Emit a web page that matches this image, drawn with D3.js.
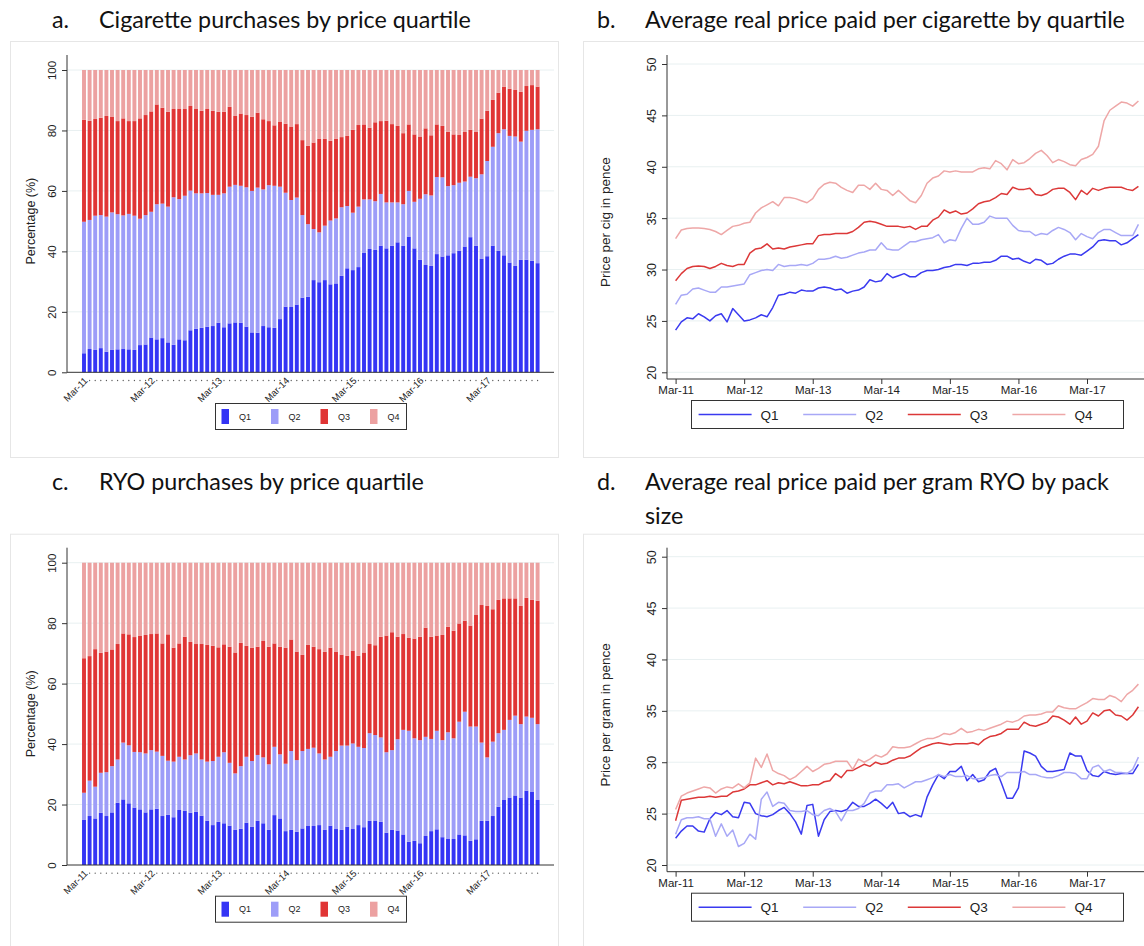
<!DOCTYPE html>
<html>
<head>
<meta charset="utf-8">
<script src="https://cdn.jsdelivr.net/npm/d3@7"></script>
<style>
  body { margin: 0; background: #fff; }
</style>
</head>
<body>
<svg id="fig" width="1144" height="946"></svg>
<script>
// months Mar-11 .. Dec-17 (82 monthly observations)
const months = d3.timeMonth.range(new Date(2011, 2, 1), new Date(2018, 0, 1));
const fmt = d3.timeFormat("%b-%y");
const tickLabels = ["Mar-11", "Mar-12", "Mar-13", "Mar-14", "Mar-15", "Mar-16", "Mar-17"];
const quartiles = ["Q1", "Q2", "Q3", "Q4"];
const pctTicks = [0, 20, 40, 60, 80, 100];
const priceTicks = [20, 25, 30, 35, 40, 45, 50];

// a. cigarette purchases: cumulative tops of Q1, Q1+Q2, Q1+Q2+Q3 (%)
const cigTop1 = [6.3,7.7,7.4,8.0,6.8,7.4,7.6,7.7,7.6,7.4,9.0,9.2,11.5,10.9,11.3,9.9,9.1,10.9,10.6,13.9,
  14.4,14.7,15.1,15.3,16.4,14.9,16.2,16.5,16.4,15.1,13.2,13.1,15.3,14.9,14.7,17.6,21.7,21.6,22.4,24.7,
  25.0,30.5,29.8,30.5,29.1,29.4,31.9,34.4,33.8,34.8,39.6,40.8,40.5,41.9,41.0,41.9,43.0,41.9,44.9,41.0,
  37.2,35.5,35.2,39.1,38.3,38.7,39.4,40.2,41.6,44.7,41.9,37.5,38.4,41.9,40.2,38.7,36.3,35.2,37.2,37.2,
  36.9,36.1];
const cigTop2 = [49.8,50.4,51.8,52.0,51.5,52.9,52.3,51.9,52.4,51.8,50.8,52.0,53.1,55.6,55.8,54.8,57.9,57.3,58.4,60.1,
  59.2,59.2,59.3,58.7,58.7,59.2,61.4,62.0,61.7,61.2,60.0,61.1,60.5,61.9,61.7,61.4,59.4,57.0,57.8,52.0,
  49.0,47.4,46.3,48.5,50.2,50.9,54.6,55.0,52.8,54.8,57.2,57.2,56.6,59.0,56.2,56.2,56.2,55.6,60.0,56.4,
  57.4,58.9,58.5,64.6,64.5,61.6,61.9,62.7,63.1,64.7,64.2,65.5,69.9,74.6,79.1,80.4,78.2,78.0,76.3,79.9,
  80.2,80.4];
const cigTop3 = [83.5,83.2,83.8,84.2,84.8,84.6,83.1,84.0,83.1,83.1,84.0,85.1,86.3,88.6,87.5,86.2,87.1,87.1,87.1,88.1,
  87.1,86.5,87.1,86.5,86.2,86.2,87.8,84.8,85.6,85.1,84.5,85.9,83.7,83.1,81.7,82.8,82.2,81.3,82.1,76.8,
  74.9,76.0,77.2,77.2,76.6,77.3,77.8,78.2,80.2,81.8,82.0,80.9,82.7,83.1,83.2,82.1,81.5,79.1,82.0,78.7,
  78.0,80.7,78.4,82.0,81.5,79.6,78.7,78.5,79.5,80.2,79.5,83.9,86.5,90.1,92.5,94.5,93.8,93.4,92.8,94.7,
  95.0,94.5];

// c. RYO purchases: cumulative tops (%)
const ryoTop1 = [14.9,16.2,15.4,17.3,16.2,17.4,20.6,21.7,20.4,19.0,18.4,17.4,18.4,18.6,16.2,16.6,15.8,18.2,17.9,17.3,
  17.6,16.3,14.6,13.2,14.3,13.8,13.0,11.6,12.0,14.0,12.6,14.6,13.8,11.6,16.5,15.4,11.2,11.6,11.0,12.1,
  12.9,12.9,13.2,11.6,13.0,11.9,11.6,12.7,11.9,13.2,12.5,14.6,14.7,14.3,10.7,11.6,11.4,10.1,7.7,8.0,
  7.2,9.6,11.2,11.8,9.2,8.6,8.6,10.1,9.8,8.0,8.5,14.6,14.6,16.2,19.3,21.5,22.3,23.0,22.3,24.6,
  24.3,21.5];
const ryoTop2 = [23.9,27.9,25.9,30.5,30.7,32.7,34.9,40.5,39.6,37.4,37.3,36.9,38.0,37.5,36.1,34.5,34.2,35.8,34.9,36.3,
  36.9,34.9,34.2,34.4,35.8,37.3,33.8,30.3,32.7,35.8,34.4,36.4,35.6,33.3,39.1,36.6,33.5,37.7,34.7,37.7,
  38.4,38.8,36.9,34.9,35.8,37.7,39.5,39.5,40.2,39.1,38.7,43.6,43.0,42.2,37.3,38.0,41.6,44.7,44.4,41.9,
  41.3,42.4,41.7,44.4,41.3,43.9,41.9,47.4,50.7,45.8,45.8,40.5,35.6,40.8,43.6,44.7,48.0,49.4,46.6,49.1,
  48.7,46.6];
const ryoTop3 = [68.4,69.1,71.4,70.2,70.6,71.3,73.1,76.6,76.3,75.4,75.9,76.1,76.4,76.6,73.3,76.3,71.9,73.3,75.5,73.8,
  73.1,73.1,72.8,72.5,72.0,73.0,72.2,70.3,73.5,72.5,71.9,72.2,74.1,72.2,73.3,72.2,71.9,74.6,70.6,69.5,
  72.8,72.2,71.4,70.5,71.9,70.6,69.6,69.2,70.8,69.2,70.3,73.1,72.7,75.5,75.9,77.0,75.5,76.4,75.2,74.9,
  75.5,78.5,75.5,75.9,76.1,78.8,77.5,79.9,80.8,79.2,82.7,86.0,85.7,84.6,87.7,88.2,88.2,88.2,85.7,88.4,
  87.7,87.4];

// b. price per cigarette (pence)
const cigQ1 = [24.1,24.9,25.3,25.2,25.7,25.4,25.0,25.5,25.7,24.9,26.2,25.6,25.0,25.1,25.3,25.6,25.4,26.3,27.5,27.6,
  27.8,27.7,28.0,27.9,27.9,28.2,28.3,28.2,28.0,28.1,27.7,27.9,28.0,28.3,29.0,28.8,28.9,29.6,29.2,29.4,
  29.6,29.3,29.3,29.7,29.9,29.9,30.0,30.2,30.3,30.5,30.5,30.4,30.6,30.6,30.7,30.7,30.9,31.3,31.3,31.0,
  31.1,30.8,30.6,31.0,30.9,30.5,30.6,31.0,31.3,31.5,31.5,31.4,31.8,32.2,32.8,32.9,32.8,32.8,32.4,32.6,
  33.0,33.4];
const cigQ2 = [26.6,27.5,27.6,28.1,28.2,28.0,27.8,27.8,28.3,28.3,28.4,28.5,28.6,29.5,29.7,29.9,30.0,29.9,30.5,30.3,
  30.4,30.4,30.5,30.4,30.6,31.0,31.0,31.1,31.3,31.1,31.2,31.4,31.6,31.7,31.9,31.9,32.6,32.0,31.9,31.9,
  32.3,32.7,32.7,32.9,33.0,33.1,33.4,32.6,32.9,32.8,34.0,35.0,34.4,34.4,34.6,35.2,35.0,35.0,35.0,34.3,
  33.8,33.7,33.7,33.3,33.5,33.4,33.8,34.1,33.9,33.6,32.9,33.5,33.2,33.0,33.6,33.9,33.9,33.6,33.3,33.3,
  33.3,34.4];
const cigQ3 = [28.9,29.6,30.1,30.3,30.35,30.3,30.1,30.3,30.6,30.4,30.3,30.5,30.5,31.6,32.0,32.1,32.5,32.0,32.1,32.0,
  32.2,32.3,32.4,32.5,32.5,33.3,33.4,33.4,33.5,33.5,33.5,33.7,34.1,34.6,34.7,34.6,34.4,34.2,34.2,34.2,
  34.1,34.2,33.9,34.2,34.2,34.8,35.1,35.8,35.5,35.7,35.4,35.5,35.9,36.4,36.6,36.7,37.0,37.4,37.3,38.0,
  37.8,37.8,37.9,37.3,37.2,37.4,37.8,37.9,37.9,37.5,36.8,37.7,37.3,37.9,37.7,37.9,38.0,38.0,38.0,37.8,
  37.7,38.1];
const cigQ4 = [33.0,33.85,34.0,34.05,34.05,34.0,33.9,33.7,33.4,33.8,34.2,34.3,34.5,34.6,35.5,36.0,36.3,36.6,36.2,37.0,
  37.0,36.9,36.7,36.5,36.9,37.8,38.3,38.5,38.4,38.0,37.7,37.5,38.2,38.2,37.8,38.4,37.8,37.7,37.2,37.7,
  37.2,36.7,36.5,37.2,38.4,38.9,39.1,39.6,39.5,39.6,39.5,39.5,39.5,39.8,39.9,39.8,40.6,40.3,39.7,40.7,
  40.3,40.4,40.8,41.3,41.6,41.1,40.4,40.7,40.5,40.2,40.1,40.7,40.9,41.2,42.0,44.5,45.5,45.9,46.3,46.2,
  45.9,46.4];

// d. price per gram RYO (pence)
const ryoQ1 = [22.6,23.3,23.8,23.8,23.3,23.2,24.5,25.1,24.9,25.3,24.7,24.6,26.1,26.0,25.0,24.8,24.7,24.9,25.3,25.6,
  25.0,24.2,23.0,25.8,25.9,22.8,24.4,25.2,25.3,25.2,25.4,26.1,25.7,25.7,26.0,26.4,26.0,25.5,26.1,25.0,
  25.1,24.7,24.9,24.7,26.6,27.8,28.8,28.4,29.1,29.1,29.6,28.2,28.8,28.1,28.3,29.1,29.4,28.0,26.5,26.5,
  27.5,31.1,30.9,30.6,29.6,29.1,29.1,29.2,29.3,30.9,30.6,30.6,29.2,28.7,28.6,29.1,28.9,28.8,28.9,28.9,
  28.9,29.8];
const ryoQ2 = [23.0,24.4,24.6,24.6,24.7,24.5,24.5,22.8,24.0,22.8,23.4,21.8,22.1,23.0,22.5,26.4,27.1,25.7,26.1,26.0,
  25.3,25.2,25.2,25.3,24.9,24.8,25.3,25.5,25.2,24.3,25.3,25.3,25.5,26.0,27.0,27.2,27.2,27.8,27.8,27.9,
  27.5,27.8,28.1,28.1,28.3,28.5,28.8,28.6,28.8,28.6,28.6,28.7,28.4,28.4,28.5,28.7,28.8,28.6,29.0,29.0,
  29.0,29.1,28.8,28.8,28.6,28.5,28.5,28.7,29.0,29.0,28.9,28.4,28.4,29.5,29.7,29.1,29.3,29.0,29.0,28.9,
  29.3,30.5];
const ryoQ3 = [24.3,26.3,26.4,26.5,26.6,26.6,26.7,26.6,26.7,26.7,27.1,27.2,27.4,27.8,27.8,28.0,28.2,27.8,28.0,27.9,
  28.1,27.9,27.7,27.7,27.8,27.8,28.1,28.2,28.9,28.5,29.2,29.2,29.5,29.8,29.6,30.0,29.8,29.9,30.2,30.4,
  30.4,30.6,31.0,31.4,31.6,31.8,31.9,31.8,31.7,31.8,31.8,31.8,31.9,31.7,32.2,32.5,32.6,32.8,33.2,33.2,
  33.2,33.9,33.6,33.5,33.7,33.9,34.5,34.4,34.1,33.7,34.4,33.7,34.0,34.8,34.5,35.0,35.1,34.6,34.5,34.1,
  34.6,35.4];
const ryoQ4 = [25.4,26.7,27.0,27.2,27.4,27.6,27.5,27.0,27.4,27.6,27.5,27.9,27.5,28.0,30.4,29.5,30.8,29.2,28.9,28.7,
  28.3,28.6,29.1,29.6,29.1,29.4,29.8,29.9,30.1,30.1,30.1,29.3,30.3,30.0,30.3,30.7,30.5,30.8,31.5,31.4,
  31.4,31.5,31.8,32.1,32.3,32.3,32.5,32.8,32.7,32.9,33.3,32.9,33.0,33.2,33.1,33.3,33.5,33.7,34.0,33.9,
  34.1,34.5,34.6,34.6,34.7,34.9,34.9,35.5,35.3,35.2,35.2,35.5,35.8,36.2,36.1,36.1,36.5,36.3,35.9,36.6,
  37.0,37.6];

const barColors = ["#3434f5", "#9d9df8", "#e03535", "#eca1a1"];
const lineColors = ["#3a3af0", "#a8a8f6", "#dc3838", "#eea7a7"];
const axisFont = "'Liberation Sans', Arial, Helvetica, sans-serif";
const titleFont = "Lato, 'Open Sans', sans-serif";

const svg = d3.select("#fig");

// ---------- titles ----------
const titleSize = (() => {
  const t = svg.append("text").attr("font-family", titleFont).attr("font-size", 20)
    .text("Cigarette purchases by price quartile");
  const w = t.node().getComputedTextLength();
  t.remove();
  return 20 * 372 / w;
})();

function title(lx, tx, yb, letter, lines) {
  svg.append("text").attr("x", lx).attr("y", yb)
    .attr("font-family", titleFont).attr("font-size", titleSize).attr("fill", "#111")
    .text(letter);
  lines.forEach((s, i) => {
    svg.append("text").attr("x", tx).attr("y", yb + i * 34)
      .attr("font-family", titleFont).attr("font-size", titleSize).attr("fill", "#111")
      .text(s);
  });
}
title(52, 99, 28, "a.", ["Cigarette purchases by price quartile"]);
title(597, 645, 28, "b.", ["Average real price paid per cigarette by quartile"]);
title(52, 99, 490, "c.", ["RYO purchases by price quartile"]);
title(597, 645, 490, "d.", ["Average real price paid per gram RYO by pack", "size"]);

// rotate left-axis tick labels to read bottom-to-top (Stata style)
function rotateYLabels(axisG, size, gap) {
  axisG.selectAll(".tick text")
    .attr("transform", "rotate(-90)")
    .attr("x", 0).attr("y", -gap).attr("dy", 0)
    .attr("text-anchor", "middle")
    .attr("font-size", size).attr("font-family", axisFont).attr("fill", "#222");
  axisG.selectAll(".tick line").attr("stroke", "#333");
}

// ---------- stacked bar panels ----------
function barPanel(dy, top1, top2, top3) {
  const g = svg.append("g").attr("transform", `translate(0,${dy})`);
  g.append("rect").attr("x", 10.5).attr("y", 41.5).attr("width", 548).attr("height", 416)
    .attr("fill", "none").attr("stroke", "#e6e6e6");

  const x = d3.scaleBand().domain(months.map(fmt)).range([81.2, 540.4])
    .paddingInner(0.3).paddingOuter(0.15);
  const y = d3.scaleLinear().domain([0, 100]).range([372.3, 70]);

  g.append("g").selectAll("line").data(pctTicks.slice(1)).join("line")
    .attr("x1", 67).attr("x2", 554).attr("y1", y).attr("y2", y)
    .attr("stroke", "#e8f0f1");

  const rows = months.map((m, i) => ({
    month: fmt(m),
    Q1: top1[i], Q2: top2[i] - top1[i], Q3: top3[i] - top2[i], Q4: 100 - top3[i]
  }));
  const stack = d3.stack().keys(quartiles)(rows);

  g.append("g").selectAll("g").data(stack).join("g")
    .attr("fill", (d, i) => barColors[i])
    .selectAll("rect").data(d => d).join("rect")
    .attr("x", d => x(d.data.month))
    .attr("width", x.bandwidth())
    .attr("y", d => y(d[1]))
    .attr("height", d => y(d[0]) - y(d[1]));

  const ya = g.append("g").attr("transform", "translate(67,0)")
    .call(d3.axisLeft(y).tickValues(pctTicks).tickSize(5).tickSizeOuter(0));
  ya.select(".domain").remove();
  rotateYLabels(ya, 11.5, 11);
  g.append("line").attr("x1", 67).attr("x2", 67).attr("y1", 55).attr("y2", 372.3)
    .attr("stroke", "#333");
  g.append("line").attr("x1", 67).attr("x2", 554).attr("y1", 372.3).attr("y2", 372.3)
    .attr("stroke", "#333");

  g.append("text")
    .attr("transform", `translate(35,${(y(0) + y(100)) / 2}) rotate(-90)`)
    .attr("text-anchor", "middle").attr("font-family", axisFont)
    .attr("font-size", 12.5).attr("fill", "#222")
    .text("Percentage (%)");

  // month labels: named ones rotated, the rest as dots
  const xl = g.append("g");
  months.map(fmt).forEach(m => {
    const cx = x(m) + x.bandwidth() / 2;
    if (tickLabels.includes(m)) {
      xl.append("text")
        .attr("transform", `translate(${cx + 2},${379}) rotate(-45)`)
        .attr("text-anchor", "end").attr("dy", "0.35em")
        .attr("font-family", axisFont).attr("font-size", 9.5).attr("fill", "#222")
        .text(m);
    } else {
      xl.append("circle").attr("cx", cx).attr("cy", 380.5).attr("r", 0.65).attr("fill", "#555");
    }
  });

  // legend
  const lg = g.append("g");
  lg.append("rect").attr("x", 215.5).attr("y", 403.5).attr("width", 191).attr("height", 26)
    .attr("fill", "#fff").attr("stroke", "#333");
  quartiles.forEach((q, k) => {
    lg.append("rect").attr("x", 221.5 + k * 49.5).attr("y", 409).attr("width", 7.5).attr("height", 15)
      .attr("fill", barColors[k]);
    lg.append("text").attr("x", 239 + k * 49.5).attr("y", 419.5)
      .attr("font-family", axisFont).attr("font-size", 9).attr("fill", "#222").text(q);
  });
}

// ---------- line panels ----------
function linePanel(dy, seriesList, ytitle) {
  const g = svg.append("g").attr("transform", `translate(0,${dy})`);
  g.append("rect").attr("x", 583.5).attr("y", 41.5).attr("width", 600).attr("height", 416)
    .attr("fill", "none").attr("stroke", "#e6e6e6");

  const x = d3.scaleLinear().domain([0, 72]).range([675.6, 1087]);
  const y = d3.scaleLinear().domain([20, 50]).range([372.3, 64]);

  g.append("g").selectAll("line").data(priceTicks).join("line")
    .attr("x1", 667).attr("x2", 1144).attr("y1", y).attr("y2", y)
    .attr("stroke", "#e8f0f1");

  const line = d3.line().x((d, i) => x(i)).y(d => y(d));
  g.append("g").selectAll("path").data(seriesList).join("path")
    .attr("d", line)
    .attr("fill", "none")
    .attr("stroke", (d, i) => lineColors[i])
    .attr("stroke-width", 1.5)
    .attr("stroke-linejoin", "round");

  const ya = g.append("g").attr("transform", "translate(667,0)")
    .call(d3.axisLeft(y).tickValues(priceTicks).tickSize(5).tickSizeOuter(0));
  ya.select(".domain").remove();
  rotateYLabels(ya, 12.5, 11);
  g.append("line").attr("x1", 667).attr("x2", 667).attr("y1", 55).attr("y2", 379)
    .attr("stroke", "#333");

  const xa = g.append("g").attr("transform", "translate(0,379)")
    .call(d3.axisBottom(x).tickValues(d3.range(0, 73, 12))
      .tickFormat((d, i) => tickLabels[i]).tickSize(5).tickSizeOuter(0));
  xa.select(".domain").remove();
  xa.selectAll(".tick text").attr("font-family", axisFont).attr("font-size", 11.5)
    .attr("fill", "#222").attr("y", 7);
  xa.selectAll(".tick line").attr("stroke", "#333");
  g.append("line").attr("x1", 667).attr("x2", 1144).attr("y1", 379).attr("y2", 379)
    .attr("stroke", "#333");

  g.append("text")
    .attr("transform", `translate(610,${(y(20) + y(50)) / 2 + 4}) rotate(-90)`)
    .attr("text-anchor", "middle").attr("font-family", axisFont)
    .attr("font-size", 13.5).attr("fill", "#222")
    .text(ytitle);

  const lg = g.append("g");
  lg.append("rect").attr("x", 691.5).attr("y", 400.5).attr("width", 432).attr("height", 28)
    .attr("fill", "#fff").attr("stroke", "#333");
  quartiles.forEach((q, k) => {
    const x0 = 698.6 + k * 104.6;
    lg.append("line").attr("x1", x0).attr("x2", x0 + 53).attr("y1", 414.5).attr("y2", 414.5)
      .attr("stroke", lineColors[k]).attr("stroke-width", 1.5);
    lg.append("text").attr("x", x0 + 62).attr("y", 419.5)
      .attr("font-family", axisFont).attr("font-size", 13.5).attr("fill", "#222").text(q);
  });
}

barPanel(0, cigTop1, cigTop2, cigTop3);
linePanel(0, [cigQ1, cigQ2, cigQ3, cigQ4], "Price per cig in pence");
barPanel(492.7, ryoTop1, ryoTop2, ryoTop3);
linePanel(492.7, [ryoQ1, ryoQ2, ryoQ3, ryoQ4], "Price per gram in pence");
</script>
</body>
</html>
